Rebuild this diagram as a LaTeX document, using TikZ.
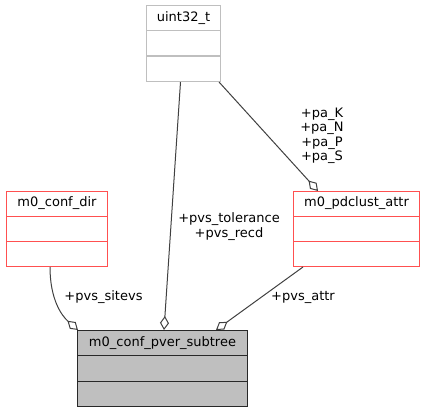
\documentclass[tikz,border=0pt]{standalone}
\usepackage{fontspec}
\setmainfont{DejaVu Sans}
\usetikzlibrary{arrows.meta}
\definecolor{boxred}{RGB}{255,80,80}
\definecolor{edgegray}{RGB}{64,64,64}
\definecolor{lightborder}{RGB}{191,191,191}
\definecolor{subfill}{RGB}{191,191,191}
\definecolor{subborder}{RGB}{40,40,40}
\tikzset{
  classbox/.style={rectangle, anchor=north west, inner sep=0pt, line width=1pt},
  lbl/.style={inner sep=0pt, font=\fontsize{13}{14.5}\selectfont, align=center, text=black},
  edge/.style={draw=edgegray, line width=1pt, -{Diamond[open,length=14pt,width=9pt]}}
}
\begin{document}
\begin{tikzpicture}[x=1pt,y=-1pt]
\useasboundingbox (0,0) rectangle (425,412);
% uint32_t
\node[classbox, draw=lightborder, minimum width=74pt, minimum height=76pt] (uint) at (146,5) {};
\draw[lightborder, line width=1pt] ([yshift=-25.5pt]uint.north west) -- ([yshift=-25.5pt]uint.north east);
\draw[lightborder, line width=1pt] ([yshift=-51pt]uint.north west) -- ([yshift=-51pt]uint.north east);
\node[lbl] (uintt) at ([yshift=-13pt]uint.north) {uint32\_t};
% m0_conf_dir
\node[classbox, draw=boxred, minimum width=101pt, minimum height=75pt] (dir) at (6,191) {};
\draw[boxred, line width=1pt] ([yshift=-25pt]dir.north west) -- ([yshift=-25pt]dir.north east);
\draw[boxred, line width=1pt] ([yshift=-50pt]dir.north west) -- ([yshift=-50pt]dir.north east);
\node[lbl] (dirt) at ([yshift=-12.5pt]dir.north) {m0\_conf\_dir};
% m0_pdclust_attr
\node[classbox, draw=boxred, minimum width=126pt, minimum height=75pt] (pd) at (293,191) {};
\draw[boxred, line width=1pt] ([yshift=-25pt]pd.north west) -- ([yshift=-25pt]pd.north east);
\draw[boxred, line width=1pt] ([yshift=-50pt]pd.north west) -- ([yshift=-50pt]pd.north east);
\node[lbl] (pdt) at ([yshift=-12.5pt]pd.north) {m0\_pdclust\_attr};
% m0_conf_pver_subtree
\node[classbox, draw=subborder, fill=subfill, minimum width=170pt, minimum height=76pt] (sub) at (77,330) {};
\draw[subborder, line width=1pt] ([yshift=-25.5pt]sub.north west) -- ([yshift=-25.5pt]sub.north east);
\draw[subborder, line width=1pt] ([yshift=-51pt]sub.north west) -- ([yshift=-51pt]sub.north east);
\node[lbl] (subt) at ([yshift=-13pt]sub.north) {m0\_conf\_pver\_subtree};
% edges
\draw[edge] ([xshift=44pt]dir.south west) .. controls (50,300) and (62,316) .. ([xshift=1pt]sub.north west);
\draw[edge] ([xshift=-3pt]uint.south) -- ([xshift=87pt]sub.north west);
\draw[edge] ([xshift=10pt]pd.south west) -- ([xshift=139pt]sub.north west);
\draw[edge] ([xshift=-2pt]uint.south east) -- ([xshift=25pt]pd.north west);
% labels
\node[lbl] (l1) at (103.5,297) {+pvs\_sitevs};
\node[lbl] (l2) at (229,226.5) {+pvs\_tolerance\\+pvs\_recd};
\node[lbl] (l3) at (303,297) {+pvs\_attr};
\node[lbl] (l4) at (322,136) {+pa\_K\\+pa\_N\\+pa\_P\\+pa\_S};
\end{tikzpicture}
\end{document}
